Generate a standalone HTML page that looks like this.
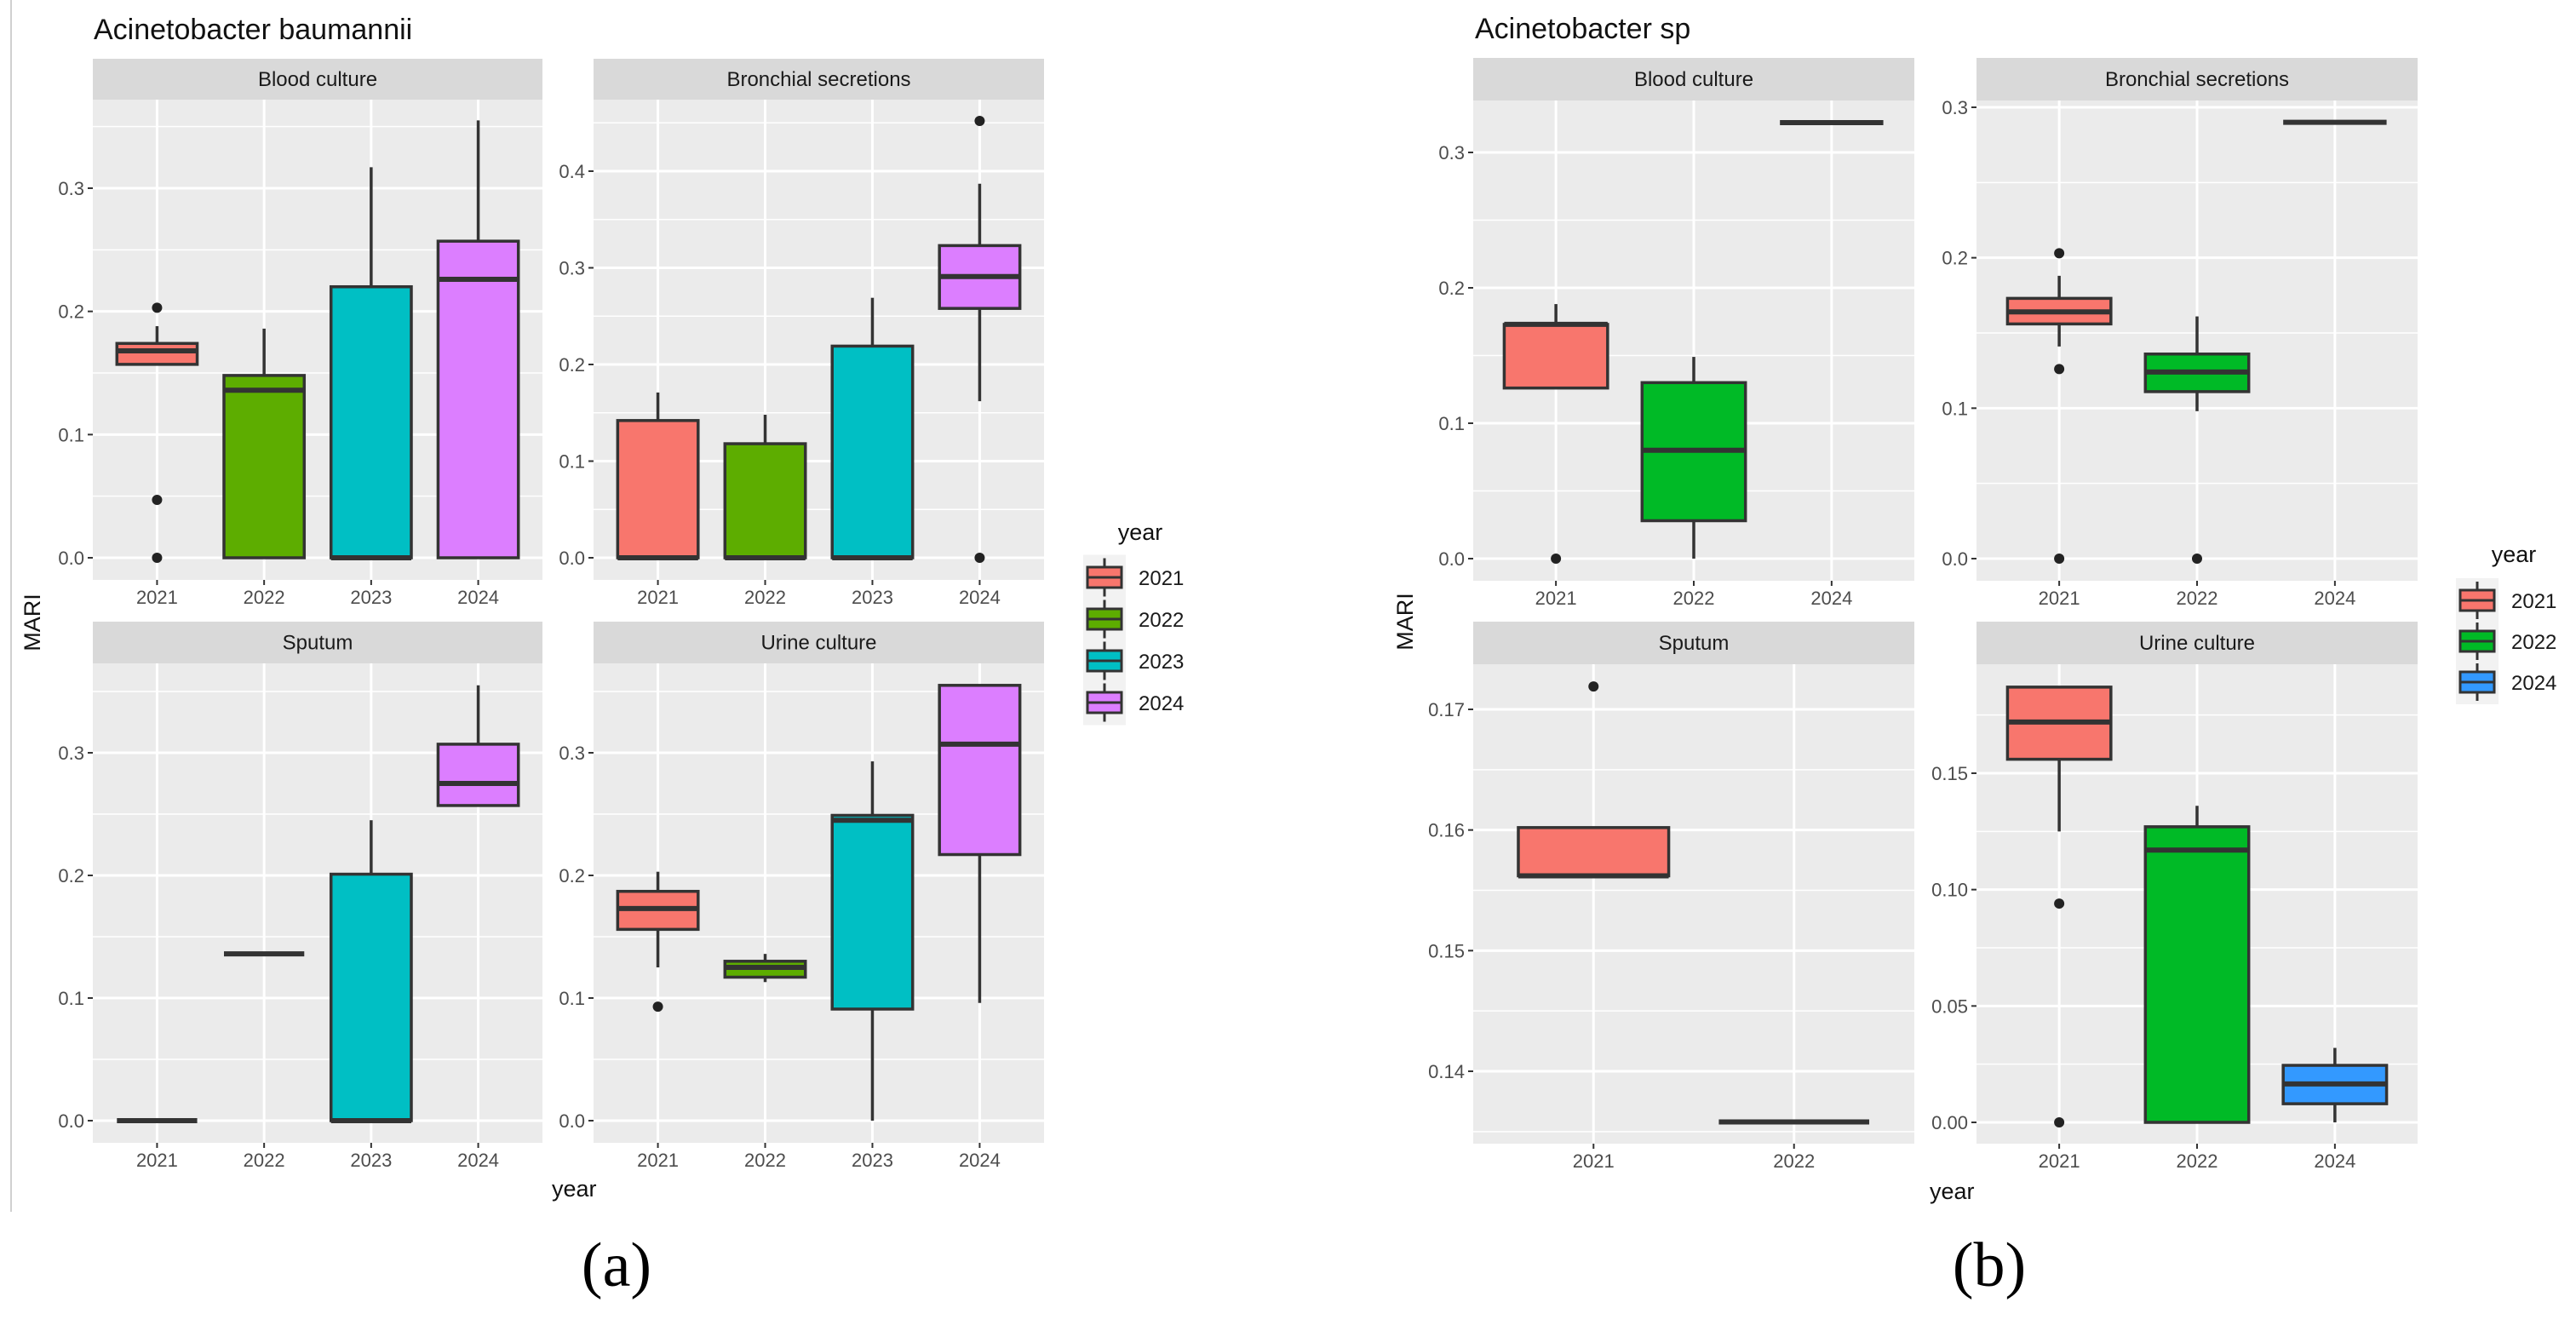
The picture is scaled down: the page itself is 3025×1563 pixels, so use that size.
<!DOCTYPE html>
<html><head><meta charset="utf-8"><style>
html,body{margin:0;padding:0;background:#fff;}
svg{display:block;font-family:"Liberation Sans",sans-serif;}
</style></head><body>
<svg id="c" width="3025" height="1563" viewBox="0 0 3025 1563" xmlns="http://www.w3.org/2000/svg">
<line x1="13" y1="0" x2="13" y2="1423" stroke="#d0d0d0" stroke-width="2"/>
<text x="110" y="46" font-size="34" fill="#111">Acinetobacter baumannii</text>
<text x="1732" y="45" font-size="34" fill="#111">Acinetobacter sp</text>
<text x="38" y="731" font-size="27" fill="#111" text-anchor="middle" transform="rotate(-90 38 731)" dominant-baseline="central">MARI</text>
<text x="1650" y="730" font-size="27" fill="#111" text-anchor="middle" transform="rotate(-90 1650 730)" dominant-baseline="central">MARI</text>
<text x="648" y="1405" font-size="27" fill="#111">year</text>
<text x="2266" y="1408" font-size="27" fill="#111">year</text>
<text x="724" y="1510" font-size="74" fill="#000" text-anchor="middle" font-family="Liberation Serif,serif">(a)</text>
<text x="2336" y="1510" font-size="74" fill="#000" text-anchor="middle" font-family="Liberation Serif,serif">(b)</text>
<g id="g"></g>
</svg>
<script>
// ---- data ----
const panelTitles = ["Blood culture","Bronchial secretions","Sputum","Urine culture","Blood culture","Bronchial secretions","Sputum","Urine culture"];
const panelYears = [
 ["2021","2022","2023","2024"],["2021","2022","2023","2024"],["2021","2022","2023","2024"],["2021","2022","2023","2024"],
 ["2021","2022","2024"],["2021","2022","2024"],["2021","2022"],["2021","2022","2024"]];
const loVals  = [[0.157,0,0,0],[0,0,0,0.162],[0,0.136,0,0.257],[0.125,0.113,0,0.096],
                 [0.126,0,0.322],[0.141,0.098,0.290],[0.1562,0.1358],[0.125,0,0]];
const q1Vals  = [[0.157,0,0,0],[0,0,0,0.258],[0,0.136,0,0.257],[0.156,0.117,0.091,0.217],
                 [0.126,0.028,0.322],[0.156,0.111,0.290],[0.1562,0.1358],[0.156,0,0.008]];
const medVals = [[0.168,0.136,0,0.226],[0,0,0,0.291],[0,0.136,0,0.275],[0.173,0.125,0.245,0.307],
                 [0.173,0.080,0.322],[0.164,0.124,0.290],[0.1562,0.1358],[0.172,0.117,0.0165]];
const q3Vals  = [[0.174,0.148,0.220,0.257],[0.142,0.118,0.219,0.323],[0,0.136,0.201,0.307],[0.187,0.130,0.249,0.355],
                 [0.173,0.130,0.322],[0.173,0.136,0.290],[0.1602,0.1358],[0.187,0.127,0.0245]];
const hiVals  = [[0.188,0.186,0.317,0.355],[0.171,0.148,0.269,0.387],[0,0.136,0.245,0.355],[0.203,0.136,0.293,0.355],
                 [0.188,0.149,0.322],[0.188,0.161,0.290],[0.1602,0.1358],[0.187,0.136,0.032]];
const outVals = [[[0.203,0.047,0],[],[],[]],[[],[],[],[0.452,0]],[[],[],[],[]],[[0.093],[],[],[]],
                 [[0],[],[]],[[0.203,0.126,0],[0],[]],[[0.1719],[]],[[0.094,0],[],[]]];
const yTicks = [[0,0.1,0.2,0.3],[0,0.1,0.2,0.3,0.4],[0,0.1,0.2,0.3],[0,0.1,0.2,0.3],
                [0,0.1,0.2,0.3],[0,0.1,0.2,0.3],[0.14,0.15,0.16,0.17],[0,0.05,0.10,0.15]];
const yTickLabels = [["0.0","0.1","0.2","0.3"],["0.0","0.1","0.2","0.3","0.4"],["0.0","0.1","0.2","0.3"],["0.0","0.1","0.2","0.3"],
                ["0.0","0.1","0.2","0.3"],["0.0","0.1","0.2","0.3"],["0.14","0.15","0.16","0.17"],["0.00","0.05","0.10","0.15"]];
const legendA = ["2021","2022","2023","2024"];
const legendB = ["2021","2022","2024"];
const colorA = {"2021":"#F8766D","2022":"#5DAD00","2023":"#00BFC4","2024":"#DC7EFF"};
const colorB = {"2021":"#F8766D","2022":"#00BA26","2024":"#3399FF"};

// ---- layout (pixel geometry, not data) ----
const geo = [
 [109,637,69,117,681,655,221],[697,1226,69,117,681,655,201],
 [109,637,730,779,1342,1316,884],[697,1226,730,779,1342,1316,884],
 [1730,2248,68,118,682,656,179],[2321,2839,68,118,682,656,126],
 [1730,2248,730,780,1343,1258,833],[2321,2839,730,780,1343,1318,908]];

const NS="http://www.w3.org/2000/svg";
const G=document.getElementById('g');
function mk(tag,attrs,parent){const e=document.createElementNS(NS,tag);for(const k in attrs)e.setAttribute(k,attrs[k]);(parent||G).appendChild(e);return e;}

for(let p=0;p<8;p++){
 const [x0,x1,st,pt,pb,yA,yB]=geo[p];
 const ticks=yTicks[p];
 const t0=ticks[0],tN=ticks[ticks.length-1];
 const ys=v=>yA+(v-t0)*(yB-yA)/(tN-t0);
 const cats=panelYears[p];
 const unit=(x1-x0)/(cats.length-1+1.2);
 const xs=i=>x0+unit*(0.6+i);
 const colors=p<4?colorA:colorB;
 const g=mk('g',{});
 
 
 mk('rect',{x:x0,y:st,width:x1-x0,height:pt-st,fill:'#D9D9D9'},g);
 const stx=mk('text',{x:(x0+x1)/2,y:(st+pt)/2+8,'font-size':24,fill:'#1A1A1A','text-anchor':'middle'},g);
 stx.textContent=panelTitles[p];
 
 
 mk('rect',{x:x0,y:pt,width:x1-x0,height:pb-pt,fill:'#EBEBEB'},g);
 const step=ticks[1]-ticks[0];
 for(let v=t0-step*3.5;v<tN+step*3;v+=step){const y=ys(v);if(y>pt&&y<pb)mk('line',{x1:x0,x2:x1,y1:y,y2:y,stroke:'#fff','stroke-width':1.5},g);}
 ticks.forEach((v,i)=>{const y=ys(v);
  mk('line',{x1:x0,x2:x1,y1:y,y2:y,stroke:'#fff','stroke-width':3},g);
  mk('line',{x1:x0-6,x2:x0,y1:y,y2:y,stroke:'#333','stroke-width':2},g);
  const t=mk('text',{x:x0-10,y:y+8,'font-size':22,fill:'#4D4D4D','text-anchor':'end'},g);
  t.textContent=yTickLabels[p][i];
  
  
 });
 cats.forEach((c,i)=>{const x=xs(i);
  mk('line',{x1:x,x2:x,y1:pt,y2:pb,stroke:'#fff','stroke-width':3},g);
  mk('line',{x1:x,x2:x,y1:pb,y2:pb+6,stroke:'#333','stroke-width':2},g);
  const t=mk('text',{x:x,y:pb+28,'font-size':22,fill:'#4D4D4D','text-anchor':'middle'},g);
  t.textContent=c;
  
  
 });
 cats.forEach((c,i)=>{const x=xs(i),w=unit*0.75;
  const b=mk('g',{},g);
  
  
  mk('line',{x1:x,x2:x,y1:ys(hiVals[p][i]),y2:ys(q3Vals[p][i]),stroke:'#333','stroke-width':3.5},b);
  mk('line',{x1:x,x2:x,y1:ys(q1Vals[p][i]),y2:ys(loVals[p][i]),stroke:'#333','stroke-width':3.5},b);
  const yq3=ys(q3Vals[p][i]),yq1=ys(q1Vals[p][i]);
  mk('rect',{x:x-w/2,y:yq3,width:w,height:Math.max(0,yq1-yq3),fill:colors[c],stroke:'#333','stroke-width':3.5},b);
  mk('line',{x1:x-w/2,x2:x+w/2,y1:ys(medVals[p][i]),y2:ys(medVals[p][i]),stroke:'#333','stroke-width':6},b);
  outVals[p][i].forEach(v=>{const o=mk('circle',{cx:x,cy:ys(v),r:6,fill:'#222'},b);
   
   });
 });
}
function legend(items,colors,tx,ty,kx,ky0,dy,name){
 const g=mk('g',{});
 
 
 const t=mk('text',{x:tx,y:ty,'font-size':27,fill:'#111','text-anchor':'middle'},g);t.textContent='year';
 mk('rect',{x:kx-5,y:ky0-dy/2-2,width:50,height:dy*items.length+4,fill:'#F2F2F2'},g);
 items.forEach((c,i)=>{const cy=ky0+i*dy;
  const e=mk('g',{},g);
  
  
  mk('line',{x1:kx+20,x2:kx+20,y1:cy-dy/2+2,y2:cy+dy/2-2,stroke:'#333','stroke-width':3},e);
  mk('rect',{x:kx,y:cy-12,width:40,height:24,fill:colors[c],stroke:'#333','stroke-width':3},e);
  mk('line',{x1:kx,x2:kx+40,y1:cy,y2:cy,stroke:'#333','stroke-width':3},e);
  const l=mk('text',{x:kx+60,y:cy+9,'font-size':24,fill:'#1A1A1A'},e);l.textContent=c;
 });
}
legend(legendA,colorA,1339,634,1277,678,49,'legend-a');
legend(legendB,colorB,2952,660,2889,705,48,'legend-b');
</script>
</body></html>
